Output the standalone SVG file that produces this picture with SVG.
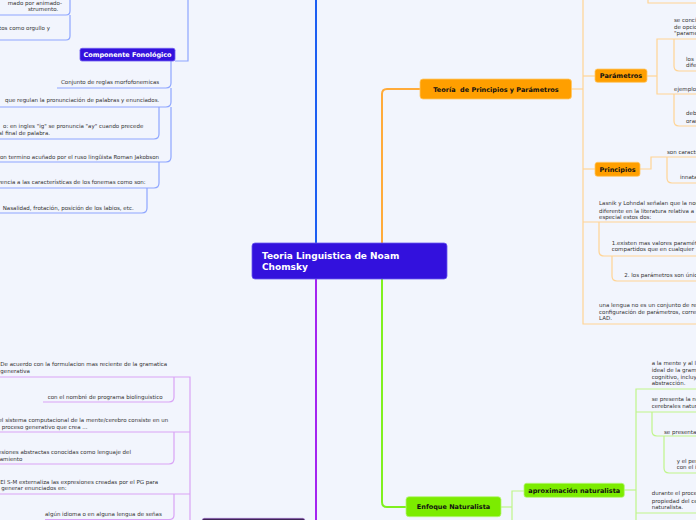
<svg xmlns="http://www.w3.org/2000/svg" width="696" height="520" viewBox="0 0 696 520">
<style>
.t{font-family:"DejaVu Sans",Verdana,sans-serif;font-size:5.5px;fill:#333}
.nb{font-family:"DejaVu Sans",Verdana,sans-serif;font-size:6.5px;font-weight:bold;fill:#111;text-anchor:middle;white-space:pre}
.nw{fill:#fff}
.e{text-anchor:end}
.lb{fill:none;stroke:#8ea6ff;stroke-width:1.2}
.lo{fill:none;stroke:#ffd494;stroke-width:1.2}
.lg{fill:none;stroke:#bff58a;stroke-width:1.2}
.lp{fill:none;stroke:#d9a3f6;stroke-width:1.2}
.mb{fill:none;stroke:#1c5ef2;stroke-width:2}
.mo{fill:none;stroke:#ffab3a;stroke-width:2}
.mg{fill:none;stroke:#80f020;stroke-width:2}
.mp{fill:none;stroke:#a424f0;stroke-width:2}
.or{fill:#ff9f00;stroke:#ffc766;stroke-width:0.8}
.gr{fill:#7cec00;stroke:#b6f57a;stroke-width:0.8}
.bl{fill:#3311dd;stroke:#6f5cf0;stroke-width:0.8}
</style>
<rect width="696" height="520" fill="#f2f5fd"/>
<g id="connectors">
<path class="mb" d="M316,243 V0"/>
<path class="mo" d="M382,243 V94 Q382,89 387,89 H420"/>
<path class="mp" d="M316,279 V520"/>
<path class="mg" d="M382,279 V502 Q382,507 387,507 H406"/>
<path class="lb" d="M188,0 V61 H175"/>
<path class="lb" d="M70,0 V11 Q70,15 66,15 H0"/>
<path class="lb" d="M70,15 V36 Q70,40 66,40 H0"/>
<path class="lb" d="M171,61 V83 Q171,88 166,88 H57"/>
<path class="lb" d="M171,88 V102 Q171,107 166,107 H0"/>
<path class="lb" d="M159,107 V134 Q159,139 154,139 H0"/>
<path class="lb" d="M171,107 V157 Q171,162 166,162 H0"/>
<path class="lb" d="M159,162 V183 Q159,188 154,188 H0"/>
<path class="lb" d="M147,188 V208 Q147,213 142,213 H0"/>
<path class="lo" d="M571,89 H583"/>
<path class="lo" d="M583,0 V324 H696"/>
<path class="lo" d="M648,0 V3 H696"/>
<path class="lo" d="M583,76 H595"/>
<path class="lo" d="M647,76 H657"/>
<path class="lo" d="M696,39 H657 V94 H696"/>
<path class="lo" d="M674,39 V66 Q674,71 679,71 H696"/>
<path class="lo" d="M674,94 V121 Q674,126 679,126 H696"/>
<path class="lo" d="M583,169 H595"/>
<path class="lo" d="M640,169 H651 V157 H696"/>
<path class="lo" d="M667,157 V178 Q667,183 672,183 H696"/>
<path class="lo" d="M583,222 H696"/>
<path class="lo" d="M599,222 V251 Q599,256 604,256 H696"/>
<path class="lo" d="M612,256 V276 Q612,281 617,281 H696"/>
<path class="lg" d="M501,507 H512"/>
<path class="lg" d="M524,491 H512 V520"/>
<path class="lg" d="M624,490 H636"/>
<path class="lg" d="M696,389 H636 V520"/>
<path class="lg" d="M636,412 H696"/>
<path class="lg" d="M652,412 V431 Q652,436 657,436 H696"/>
<path class="lg" d="M664,436 V468 Q664,473 669,473 H696"/>
<path class="lg" d="M636,513 H696"/>
<path class="lp" d="M0,377 H190 V520"/>
<path class="lp" d="M174,377 V397 Q174,402 169,402 H43"/>
<path class="lp" d="M0,432 H190"/>
<path class="lp" d="M174,432 V459 Q174,464 169,464 H0"/>
<path class="lp" d="M0,494 H190"/>
<path class="lp" d="M174,494 V515 Q174,519.5 169,519.5 H45"/>
</g>
<g id="central">
<rect x="252" y="243" width="195" height="36" rx="3" fill="#3311dd" stroke="#6a58ef" stroke-width="0.8"/>
<text x="262" y="259.3" class="nb nw" style="font-size:9px;text-anchor:start">Teoria Linguistica de Noam</text>
<text x="262" y="269.8" class="nb nw" style="font-size:9px;text-anchor:start">Chomsky</text>
</g>
<g id="componente-fonologico">
<rect class="bl" x="80" y="48.3" width="95" height="12.7" rx="2"/>
<text class="nb nw" x="127.5" y="57">Componente Fonológico</text>
</g>
<g id="blue-texts">
<text class="t e" x="62" y="5.3">mado por animado-</text>
<text class="t" x="28" y="11">strumento.</text>
<text class="t e" x="50" y="30.2">tos como orgullo y</text>
<text class="t" x="61" y="83.6">Conjunto de reglas morfofonemicas</text>
<text class="t" x="5" y="102.2">que regulan la pronunciación de palabras y enunciados.</text>
<text class="t e" x="143.3" y="128">o: en ingles "ig" se pronuncia "ay" cuando precede</text>
<text class="t e" x="50" y="135.3">al final de palabra.</text>
<text class="t e" x="159" y="158.7">on termino acuñado por el ruso lingüista Roman Jakobson</text>
<text class="t e" x="145.7" y="183.7">rencia a las características de los fonemas como son:</text>
<text class="t" x="2.7" y="209.7">Nasalidad, frotación, posición de los labios, etc.</text>
</g>
<g id="principios-parametros">
<rect class="or" x="420" y="79" width="151.5" height="20" rx="3"/>
<text class="nb" x="496" y="91.5">Teoría  de Principios y Parámetros</text>
</g>
<g id="parametros">
<rect class="or" x="595" y="69" width="52" height="13.3" rx="2.5"/>
<text class="nb" x="621" y="78">Parámetros</text>
</g>
<g id="principios">
<rect class="or" x="595" y="162.3" width="45" height="14" rx="2.5"/>
<text class="nb" x="617.5" y="171.6">Principios</text>
</g>
<g id="orange-texts">
<text class="t" x="674" y="22">se concibe</text>
<text class="t" x="674" y="28.7">de opciones</text>
<text class="t" x="674" y="35.3">"parametros"</text>
<text class="t" x="686" y="60.7">los</text>
<text class="t" x="686" y="67.3">diferentes</text>
<text class="t" x="674" y="91.3">ejemplo</text>
<text class="t" x="686" y="115.3">debe</text>
<text class="t" x="686" y="122.7">oración</text>
<text class="t" x="667" y="154">son caracteristicas</text>
<text class="t" x="680" y="178.7">innatas</text>
<text class="t" x="599" y="205.3">Lasnik y Lohndal señalan que la noción</text>
<text class="t" x="599" y="212.7">diferente en la literatura relativa a</text>
<text class="t" x="599" y="219.3">especial estos dos:</text>
<text class="t" x="611.7" y="245.3">1.existen mas valores paramétricos</text>
<text class="t" x="611.7" y="251.3">compartidos que en cualquier</text>
<text class="t" x="624.3" y="277">2. los parámetros son únicos</text>
<text class="t" x="599" y="307">una lengua no es un conjunto de reglas</text>
<text class="t" x="599" y="313.7">configuración de parámetros, correspondiente</text>
<text class="t" x="599" y="320.3">LAD.</text>
</g>
<g id="enfoque-naturalista">
<rect class="gr" x="406" y="496.7" width="95" height="20" rx="3"/>
<text class="nb" x="453.5" y="509.2">Enfoque Naturalista</text>
</g>
<g id="aproximacion-naturalista">
<rect class="gr" x="524" y="483.3" width="100.3" height="14" rx="2.5"/>
<text class="nb" x="574.2" y="492.6">aproximación naturalista</text>
</g>
<g id="green-texts">
<text class="t" x="651.7" y="365.3">a la mente y al lenguaje</text>
<text class="t" x="651.7" y="372">ideal de la gramatica</text>
<text class="t" x="651.7" y="378.7">cognitivo, incluyendo</text>
<text class="t" x="651.7" y="385.3">abstracción.</text>
<text class="t" x="651.7" y="401.3">se presenta la noción</text>
<text class="t" x="651.7" y="408">cerebrales naturales</text>
<text class="t" x="664" y="433.7">se presenta como</text>
<text class="t" x="676.7" y="463">y el periodo</text>
<text class="t" x="676.7" y="469.3">con el inicio</text>
<text class="t" x="651.7" y="495.3">durante el proceso</text>
<text class="t" x="651.7" y="502.7">propiedad del cerebro</text>
<text class="t" x="651.7" y="509.3">naturalista.</text>
</g>
<g id="purple-texts">
<text class="t" x="0.3" y="366.3">De acuerdo con la formulacion mas reciente de la gramatica</text>
<text class="t" x="0.3" y="373">generativa</text>
<text class="t" x="47.7" y="398.7">con el nombré de programa biolinguistico</text>
<text class="t e" x="168.3" y="422">el sistema computacional de la mente/cerebro consiste en un</text>
<text class="t" x="1.7" y="428.7">proceso generativo que crea ...</text>
<text class="t e" x="131" y="454.3">esiones abstractas conocidas como lenguaje del</text>
<text class="t e" x="22.3" y="461">amiento</text>
<text class="t" x="0.3" y="484.3">El S-M externaliza las expresiones creadas por el PG para</text>
<text class="t" x="1.3" y="490.3">generar enunciados en:</text>
<text class="t" x="45" y="516">algún idioma o en alguna lengua de señas</text>
</g>
<g id="purple-node">
<rect x="202" y="518.3" width="103" height="14" rx="2.5" fill="#3f2456" stroke="#a16bd0" stroke-width="0.6"/>
</g>
</svg>
